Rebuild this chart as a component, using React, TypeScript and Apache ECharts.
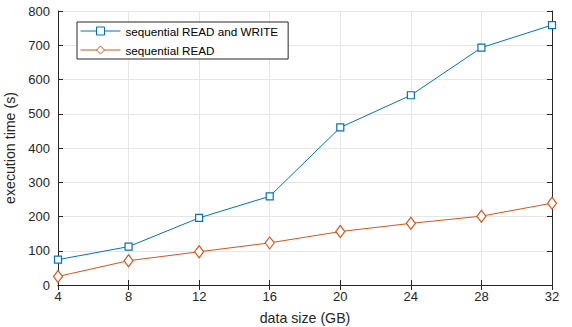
import React, { useEffect, useRef } from "react";
import * as echarts from "echarts";

const xValues = [4, 8, 12, 16, 20, 24, 28, 32];
const readWrite = [74, 112, 196, 259, 460, 554, 693, 759];
const readOnly = [25, 71, 97, 123, 156, 180, 201, 239];
const seriesNames = ["sequential READ and WRITE", "sequential READ"];

const FONT = "Liberation Sans, Arial, Helvetica, sans-serif";

export default function App() {
  const ref = useRef<HTMLDivElement>(null);
  useEffect(() => {
    if (!ref.current) return;
    const chart = echarts.init(ref.current, null, { renderer: "svg" });
    const tickCommon = { show: true, inside: true, length: 5, lineStyle: { color: "#262626", width: 1 } };
    const lineCommon = { show: true, lineStyle: { color: "#262626", width: 1 } };
    chart.setOption({
      animation: false,
      backgroundColor: "#ffffff",
      grid: { left: 58, right: 20, top: 11, bottom: 42, containLabel: false, outerBoundsMode: "none" },
      legend: {
        left: 77,
        top: 22,
        orient: "vertical",
        borderColor: "#262626",
        borderWidth: 1,
        backgroundColor: "#ffffff",
        padding: [3, 10, 3, 3],
        itemWidth: 40,
        itemHeight: 10,
        itemGap: 7,
        lineStyle: { width: 1 },
        itemStyle: { borderWidth: 1 },
        textStyle: { fontFamily: FONT, fontSize: 11.7, color: "#000" },
        data: seriesNames,
      },
      xAxis: [
        {
          type: "value",
          min: 4,
          max: 32,
          interval: 4,
          name: "data size (GB)",
          nameLocation: "middle",
          nameGap: 26,
          nameTextStyle: { fontFamily: FONT, fontSize: 14.2, color: "#262626" },
          axisLine: lineCommon,
          axisTick: tickCommon,
          axisLabel: { fontFamily: FONT, fontSize: 13, color: "#262626", margin: 5 },
          splitLine: { show: true, lineStyle: { color: "#e6e6e6", width: 1 } },
        },
        {
          type: "value",
          position: "top",
          min: 4,
          max: 32,
          interval: 4,
          axisLine: lineCommon,
          axisTick: tickCommon,
          axisLabel: { show: false },
          splitLine: { show: false },
        },
      ],
      yAxis: [
        {
          type: "value",
          min: 0,
          max: 800,
          interval: 100,
          name: "execution time (s)",
          nameLocation: "middle",
          nameGap: 35,
          nameTextStyle: { fontFamily: FONT, fontSize: 14.2, color: "#262626" },
          axisLine: lineCommon,
          axisTick: tickCommon,
          axisLabel: { fontFamily: FONT, fontSize: 13, color: "#262626", margin: 8 },
          splitLine: { show: true, lineStyle: { color: "#e6e6e6", width: 1 } },
        },
        {
          type: "value",
          position: "right",
          min: 0,
          max: 800,
          interval: 100,
          axisLine: lineCommon,
          axisTick: tickCommon,
          axisLabel: { show: false },
          splitLine: { show: false },
        },
      ],
      series: [
        {
          name: seriesNames[0],
          type: "line",
          data: xValues.map((x, i) => [x, readWrite[i]]),
          symbol: "rect",
          symbolSize: 7,
          showAllSymbol: true,
          lineStyle: { color: "#0072BD", width: 1 },
          itemStyle: { color: "#ffffff", borderColor: "#0072BD", borderWidth: 1.2 },
          color: "#0072BD",
        },
        {
          name: seriesNames[1],
          type: "line",
          data: xValues.map((x, i) => [x, readOnly[i]]),
          symbol: "diamond",
          symbolSize: [9, 12],
          showAllSymbol: true,
          lineStyle: { color: "#D95319", width: 1 },
          itemStyle: { color: "#ffffff", borderColor: "#D95319", borderWidth: 1.2 },
          color: "#D95319",
        },
      ],
    });
    return () => chart.dispose();
  }, []);
  return <div ref={ref} style={{ width: 572, height: 327, position: "absolute", left: 0, top: 0 }} />;
}
